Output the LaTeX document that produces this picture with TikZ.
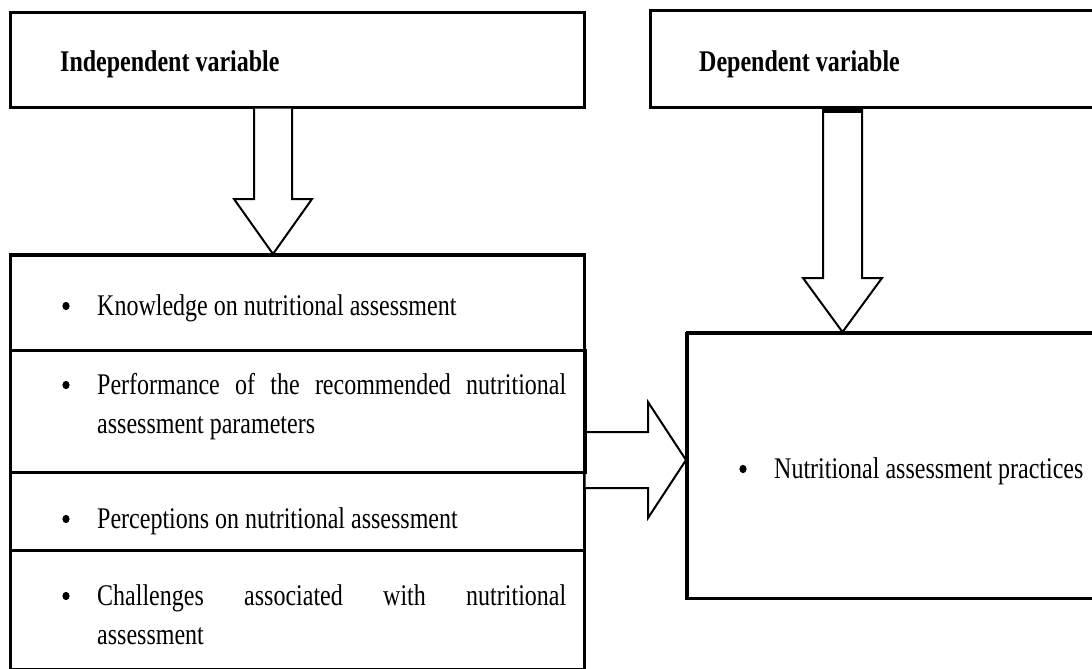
\documentclass[tikz,border=0pt]{standalone}
\usepackage{fontspec}
\setmainfont{Liberation Serif}[FakeStretch=0.8]
\usetikzlibrary{calc}
\tolerance=10000
\hbadness=10000
\hyphenpenalty=10000
\exhyphenpenalty=10000
\lefthyphenmin=62
\begin{document}
\begin{tikzpicture}[x=1pt,y=-1pt,
  box/.style={draw,line width=2.6pt,inner sep=0pt,anchor=north west,minimum width=#1},
  box/.default=574pt,
  head/.style={font=\fontsize{30}{39}\selectfont\bfseries,inner sep=0pt,anchor=base west},
  item/.style={font=\fontsize{30}{39}\selectfont,inner sep=0pt,anchor=base west,text width=#1,align=justify},
  item/.default=469pt,
  plain/.style={font=\fontsize{30}{39}\selectfont,inner sep=0pt,anchor=base west},
  bullet/.style={fill=black},
  blockarrow/.style={draw,line width=2pt,line join=miter,fill=white}]
\useasboundingbox (0,0) rectangle (1092,669);
\clip (0,0) rectangle (1092,669);
% boxes
\node[box,minimum height=95pt] (indep) at (9,11) {};
\node[box=461pt,minimum height=97pt] (dep) at (649,9) {};
\node[box,minimum height=95pt] (item1) at (9,254) {};
\node[box,minimum height=122pt] (item2) at (9,349) {};
\node[box,minimum height=78pt] (item3) at (9,471) {};
\node[box,minimum height=119pt] (item4) at (9,549) {};
\node[box=424pt,minimum height=265pt] (outcome) at (686,332) {};
% texts
\node[head] (tindep) at (60,71) {Independent variable};
\node[head] (tdep) at (699,71) {Dependent variable};
\node[item] (t1) at (97,315) {Knowledge on nutritional assessment};
\node[item] (t2) at (97,394) {Performance of the recommended nutritional assessment parameters};
\node[item] (t3) at (97,528) {Perceptions on nutritional assessment};
\node[item] (t4) at (97,605) {Challenges associated with nutritional assessment};
\node[plain] (t5) at (774,478) {Nutritional assessment practices};
% bullets
\foreach \t in {t1,t2,t3,t4,t5}
  \fill[bullet] ($(\t.base west)+(-31,-9)$) ellipse [x radius=3.6pt, y radius=4.2pt];
% arrow anchors
\coordinate (a1s) at (273,0 |- indep.south);
\coordinate (a1t) at (273,0 |- item1.north);
\coordinate (a2s) at (842.5,0 |- dep.south);
\coordinate (a2t) at (842.5,0 |- outcome.north);
\coordinate (a3s) at (item2.east |- 0,460);
\coordinate (a3t) at (outcome.west |- 0,460);
% arrows
\draw[blockarrow] ($(a1s)+(-19,0)$) -- ($(a1t)+(-19,-55)$) -- ($(a1t)+(-39,-55)$) -- (a1t)
  -- ($(a1t)+(39,-55)$) -- ($(a1t)+(19,-55)$) -- ($(a1s)+(19,0)$);
\draw[blockarrow] ($(a2s)+(-19.5,0)$) -- ($(a2t)+(-19.5,-54)$) -- ($(a2t)+(-39.5,-54)$) -- (a2t)
  -- ($(a2t)+(39.5,-54)$) -- ($(a2t)+(19.5,-54)$) -- ($(a2s)+(19.5,0)$);
\fill ($(a2s)+(-19.5,-1.5)$) rectangle ($(a2s)+(19.5,4)$);
\draw[blockarrow] ($(a3s)+(0,-28)$) -- ($(a3t)+(-38,-28)$) -- ($(a3t)+(-38,-58)$) -- (a3t)
  -- ($(a3t)+(-38,58)$) -- ($(a3t)+(-38,28)$) -- ($(a3s)+(0,28)$);
% redraw box borders touched by arrow fills
\draw[line width=2.6pt] (item1.north west) -- (item1.north east);
\draw[line width=2.6pt] (outcome.north west) -- (outcome.north east);
\draw[line width=2.6pt] (outcome.north west) -- (outcome.south west);
\draw[line width=2.6pt] (item2.north east) -- (item2.south east);
\end{tikzpicture}
\end{document}
